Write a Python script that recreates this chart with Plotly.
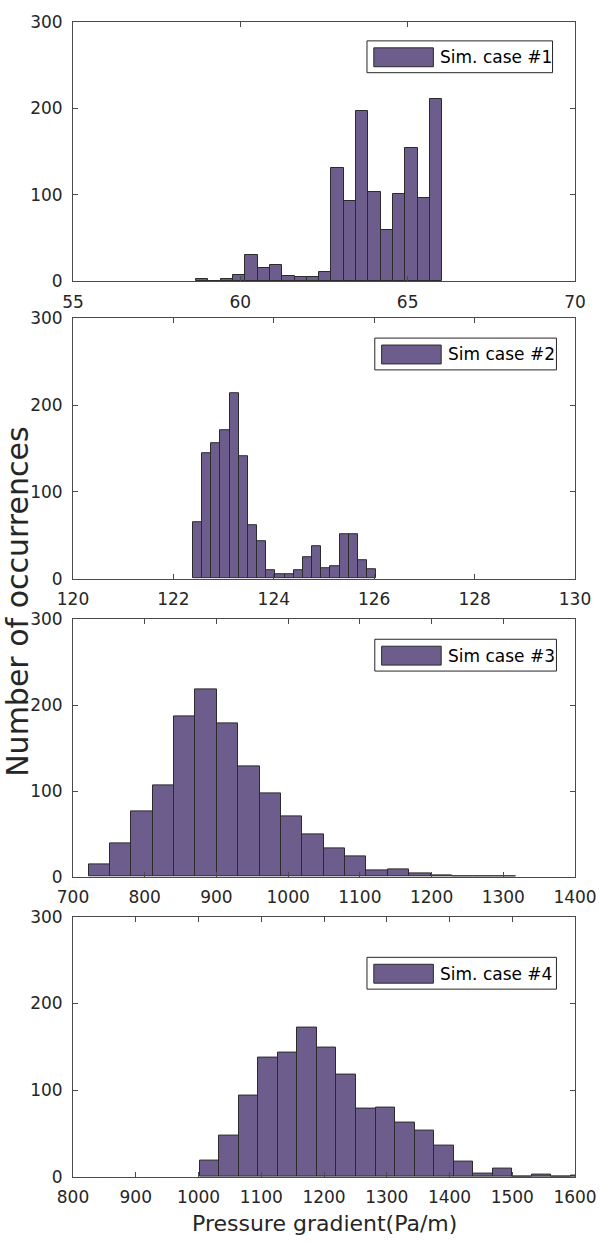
import plotly.graph_objects as go

# ---------------- data ----------------
case_names = ["Sim. case #1", "Sim case #2", "Sim case #3", "Sim. case #4"]

counts1 = [3, 1, 3, 7, 30, 16, 19, 6, 5, 5, 11, 131, 93, 197, 103, 59, 101, 154, 97, 211]
bin_start1, bin_width1 = 58.68, 0.3675

counts2 = [65, 144, 156, 171, 214, 141, 61, 43, 10, 5, 5, 10, 25, 37, 12, 14, 51, 51, 21, 11]
bin_start2, bin_width2 = 122.39, 0.1825

counts3 = [15, 39, 76, 107, 187, 219, 179, 129, 97, 71, 50, 33, 24, 8, 9, 4, 2, 1, 1, 1]
bin_start3, bin_width3 = 721.8, 29.8

counts4 = [19, 48, 94, 138, 143, 172, 149, 118, 79, 80, 63, 54, 36, 18, 4, 10, 1, 3, 1, 2]
bin_start4, bin_width4 = 1001.8, 31.15

x_ranges = [[55, 70], [120, 130], [700, 1400], [800, 1600]]
x_ticks = [[55, 60, 65, 70],
           [120, 122, 124, 126, 128, 130],
           [700, 800, 900, 1000, 1100, 1200, 1300, 1400],
           [800, 900, 1000, 1100, 1200, 1300, 1400, 1500, 1600]]
y_ticks = [0, 100, 200, 300]

# ---------------- layout geometry (pixels) ----------------
W, H = 609, 1243
L, R, T, B = 73, 587, 15, 1177
panels_px = [(15, 276), (313, 575), (616, 875), (915, 1177)]
legend_px = [(374, 564, 34), (382, 568, 333), (382, 568, 636), (374, 568, 956)]

def px_x(px):
    return (px - L) / (R - L)

def px_y(py):
    return (B - py) / (B - T)

FONT = "DejaVu Sans"
BAR_COLOR = "rgb(108,93,140)"
EDGE = "#2b2b2b"
AX = "#4a4a4a"

fig = go.Figure()
datasets = [(counts1, bin_start1, bin_width1),
            (counts2, bin_start2, bin_width2),
            (counts3, bin_start3, bin_width3),
            (counts4, bin_start4, bin_width4)]

for k, (cnts, s, w) in enumerate(datasets):
    idx = "" if k == 0 else str(k + 1)
    centers = [s + w * (i + 0.5) for i in range(len(cnts))]
    fig.add_trace(go.Bar(
        x=centers, y=cnts, width=[w] * len(cnts),
        marker=dict(color=BAR_COLOR, line=dict(color=EDGE, width=1)),
        xaxis="x" + idx, yaxis="y" + idx, showlegend=False,
        name=case_names[k]))

layout = dict(
    width=W, height=H,
    margin=dict(l=L, r=W - R, t=T, b=H - B),
    plot_bgcolor="white", paper_bgcolor="white",
    font=dict(family=FONT, size=17, color="#262626"),
    bargap=0, showlegend=False,
)

for k in range(4):
    idx = "" if k == 0 else str(k + 1)
    top, bot = panels_px[k]
    layout["xaxis" + idx] = dict(
        domain=[0, 1], range=x_ranges[k], tickvals=x_ticks[k],
        anchor="y" + idx, showline=True, linecolor=AX, linewidth=1,
        mirror="ticks", ticks="inside", ticklen=5, tickcolor=AX,
        showgrid=False, zeroline=False, ticklabelstandoff=5,
        tickfont=dict(family=FONT, size=17, color="#262626"))
    layout["yaxis" + idx] = dict(
        domain=[px_y(bot), px_y(top)], range=[0, 300], tickvals=y_ticks,
        anchor="x" + idx, showline=True, linecolor=AX, linewidth=1,
        mirror="ticks", ticks="inside", ticklen=5, tickcolor=AX,
        showgrid=False, zeroline=False, ticklabelstandoff=6,
        tickfont=dict(family=FONT, size=17, color="#262626"))

shapes = []
annotations = []
for k in range(4):
    bl, br, btop = legend_px[k]
    bbot = btop + 32
    shapes.append(dict(type="rect", xref="paper", yref="paper",
                       x0=px_x(bl), x1=px_x(br), y0=px_y(bbot), y1=px_y(btop),
                       line=dict(color="#262626", width=1), fillcolor="white", layer="above"))
    pl = bl + 7
    shapes.append(dict(type="rect", xref="paper", yref="paper",
                       x0=px_x(pl), x1=px_x(pl + 61), y0=px_y(btop + 26), y1=px_y(btop + 7),
                       line=dict(color=EDGE, width=1), fillcolor=BAR_COLOR, layer="above"))
    annotations.append(dict(xref="paper", yref="paper", x=px_x(pl + 66), y=px_y(btop + 16.5),
                            text=case_names[k], showarrow=False, xanchor="left", yanchor="middle",
                            font=dict(family=FONT, size=17, color="#000000")))

annotations.append(dict(xref="paper", yref="paper", x=px_x(330), y=px_y(1224),
                        text="Pressure gradient(Pa/m)", showarrow=False,
                        xanchor="center", yanchor="middle",
                        font=dict(family=FONT, size=22, color="#262626")))
annotations.append(dict(xref="paper", yref="paper", x=px_x(16), y=px_y(598),
                        text="Number of occurrences", showarrow=False, textangle=-90,
                        xanchor="center", yanchor="middle",
                        font=dict(family=FONT, size=30, color="#262626")))

layout["shapes"] = shapes
layout["annotations"] = annotations
fig.update_layout(**layout)
fig.write_html("out.html")
